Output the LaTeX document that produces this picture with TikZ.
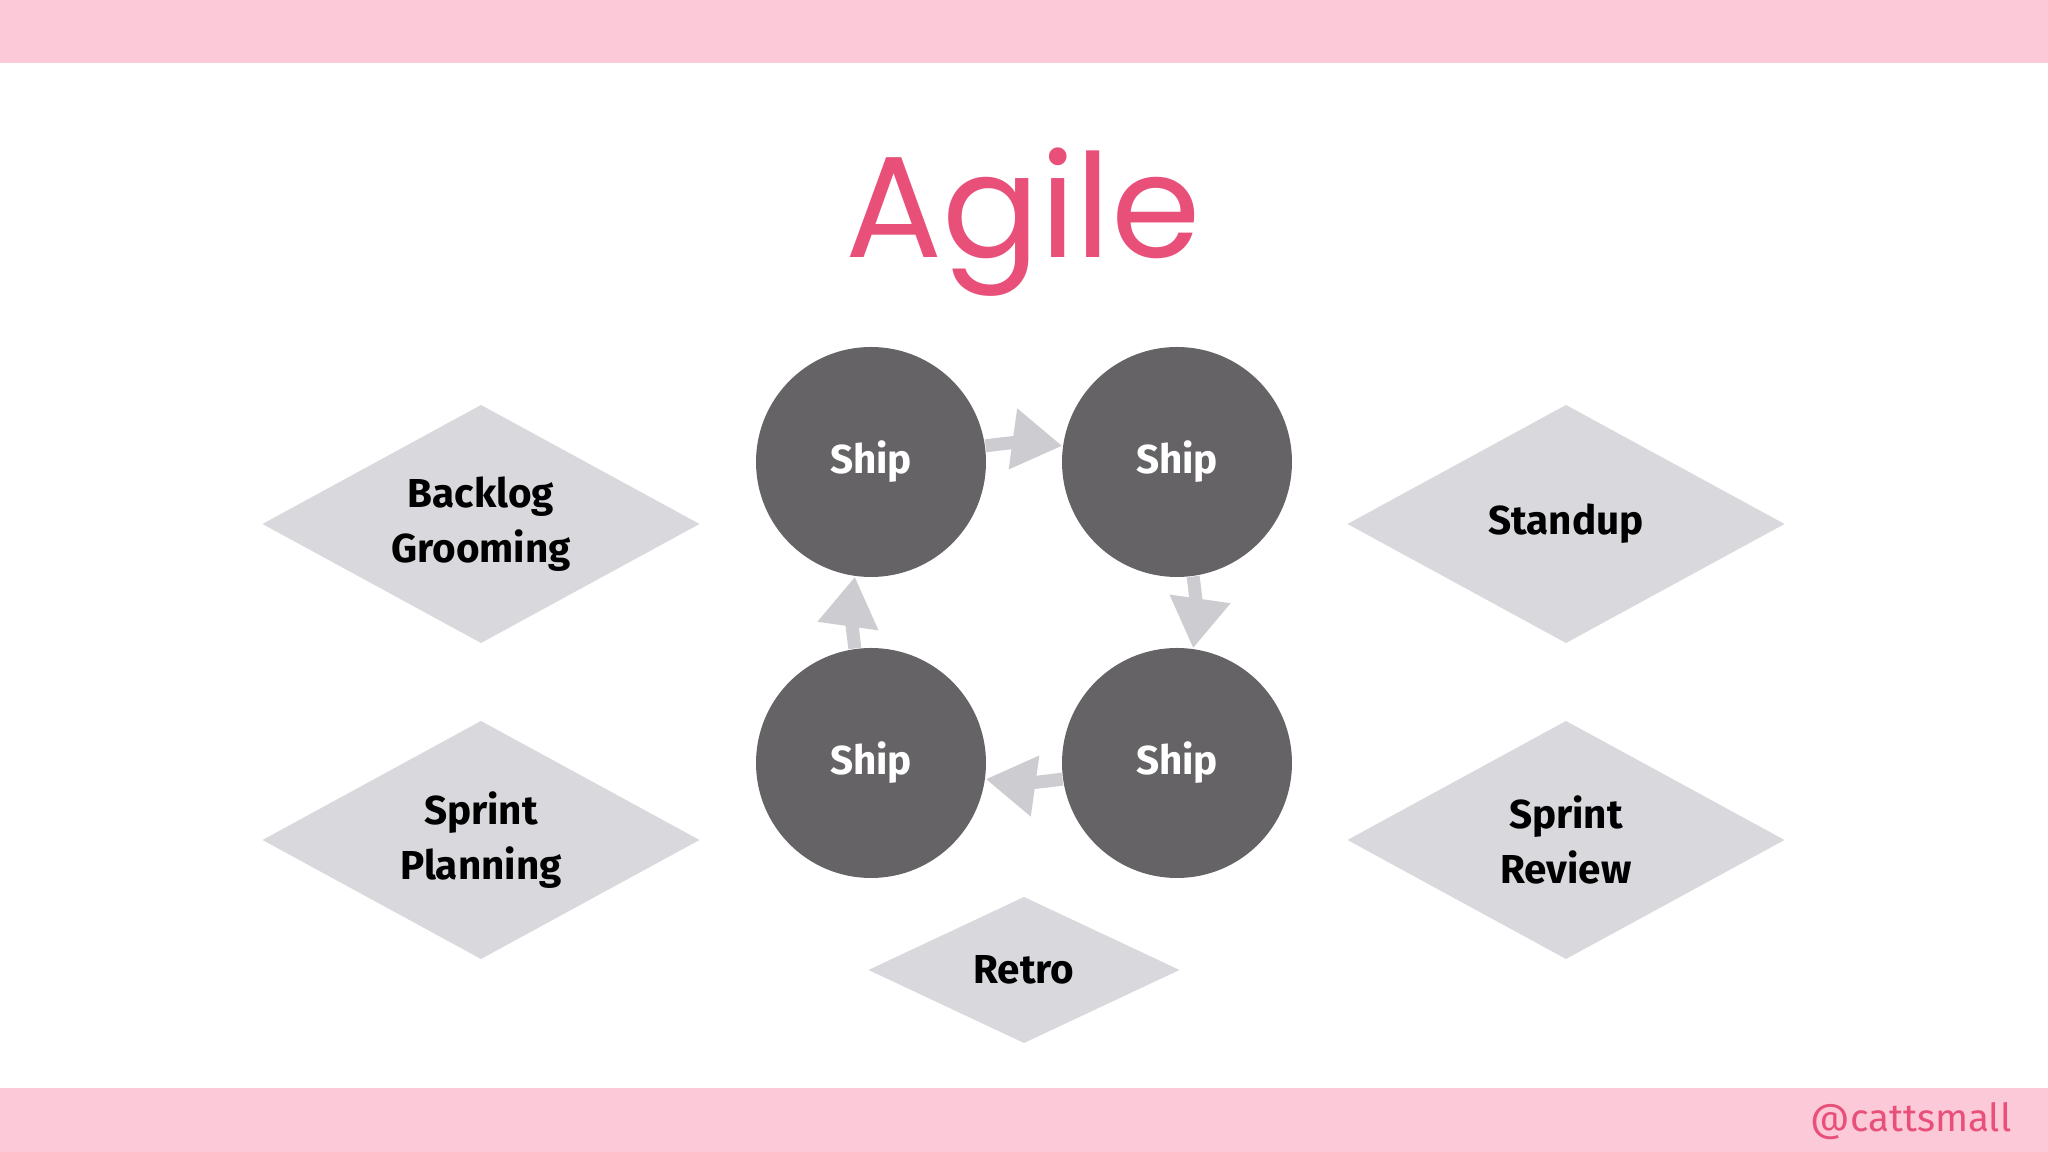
\documentclass[tikz,border=0pt]{standalone}
\usepackage{fontspec}
\setmainfont{Fira Sans}
\newfontfamily\titlefont{Poppins}
\usetikzlibrary{arrows.meta}
\definecolor{bandpink}{HTML}{FBC9D7}
\definecolor{titlepink}{HTML}{E8507A}
\definecolor{shipgray}{HTML}{656366}
\definecolor{diagray}{HTML}{D9D8DC}
\definecolor{arrgray}{HTML}{CDCCD0}
\tikzset{
  ship/.style={circle,fill=shipgray,minimum size=2.30cm,inner sep=0pt,text=white,font=\bfseries\fontsize{11.5}{14}\selectfont},
  dtext/.style={align=center,font=\bfseries\fontsize{11.5}{15.5}\selectfont},
  dfill/.style={fill=diagray},
  flow/.style={draw=arrgray,line width=0.13cm,bend left=8,-{Triangle[width=0.58cm,length=0.5cm]}}
}
\newcommand{\diam}[5]{\fill[dfill] (#1-#3,#2) -- (#1,#2+#4) -- (#1+#3,#2) -- (#1,#2-#4) -- cycle;}
\begin{document}
\begin{tikzpicture}[x=1cm,y=1cm]
\useasboundingbox (0,0) rectangle (20.48,11.52);
\fill[white] (0,0) rectangle (20.48,11.52);
\fill[bandpink] (0,10.89) rectangle (20.48,11.52);
\fill[bandpink] (0,0) rectangle (20.48,0.64);
\node[text=titlepink,font=\titlefont\fontsize{41}{44}\selectfont] (title) at (10.23,9.30) {Agile};
\node[ship] (c1) at (8.71,6.90) {Ship};
\node[ship] (c2) at (11.77,6.90) {Ship};
\node[ship] (c3) at (8.71,3.89) {Ship};
\node[ship] (c4) at (11.77,3.89) {Ship};
\draw[flow] (c1.8) to (c2.172);
\draw[flow] (c2.-82) to (c4.82);
\draw[flow] (c4.188) to (c3.-8);
\draw[flow] (c3.98) to (c1.-98);
\diam{4.81}{6.28}{2.185}{1.19}{}
\diam{4.81}{3.12}{2.185}{1.19}{}
\diam{15.66}{6.28}{2.185}{1.19}{}
\diam{15.66}{3.12}{2.185}{1.19}{}
\diam{10.24}{1.82}{1.555}{0.73}{}
\node[dtext] (bg) at (4.81,6.28) {Backlog\\Grooming};
\node[dtext] (sp) at (4.81,3.12) {Sprint\\Planning};
\node[dtext] (su) at (15.66,6.28) {Standup};
\node[dtext] (sr) at (15.66,3.12) {Sprint\\Review};
\node[dtext] (re) at (10.24,1.82) {Retro};
\node[text=titlepink,font=\fontsize{11}{13}\selectfont,anchor=east] (tag) at (20.24,0.31) {@cattsmall};
\end{tikzpicture}
\end{document}
